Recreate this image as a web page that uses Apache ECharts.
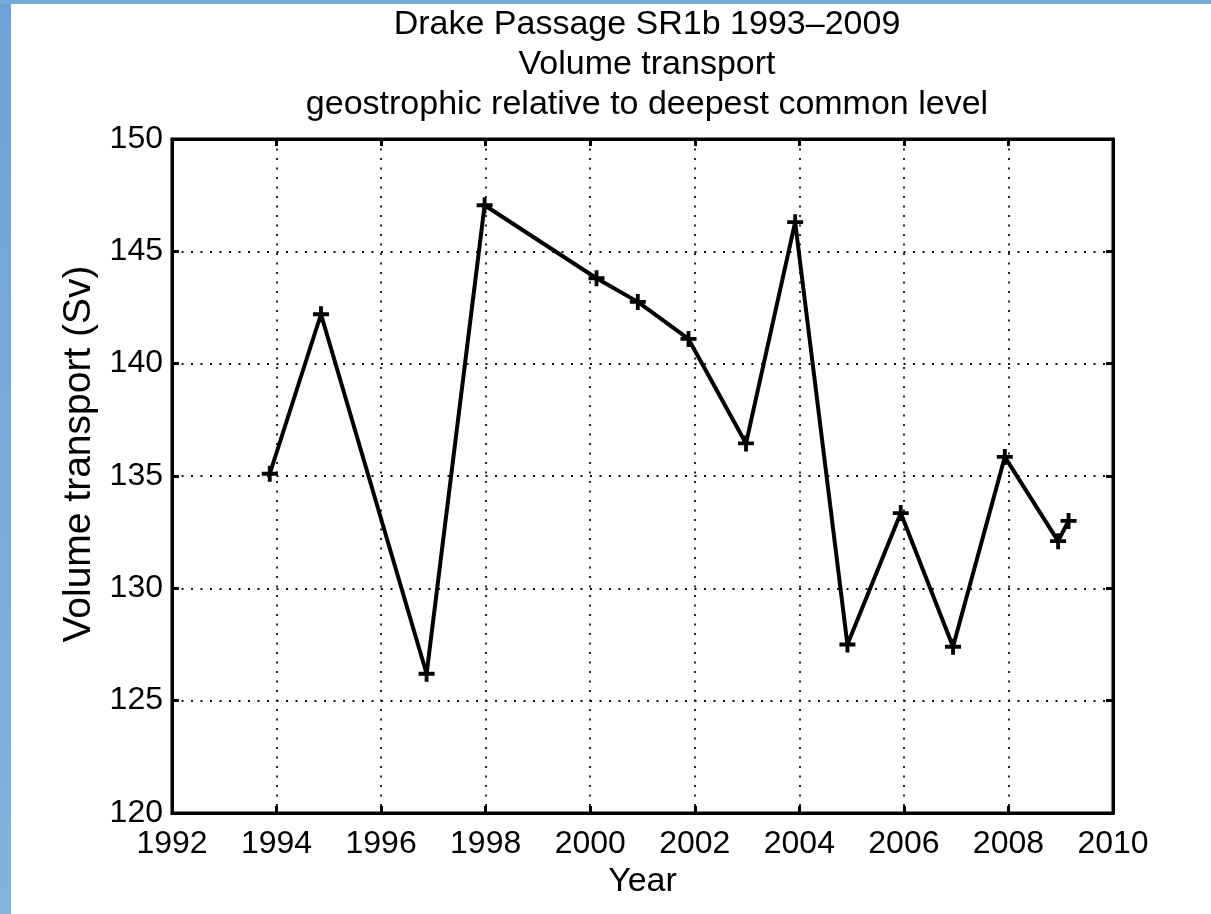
<!DOCTYPE html>
<html>
<head>
<meta charset="utf-8">
<script src="https://cdn.jsdelivr.net/npm/echarts@6/dist/echarts.min.js"></script>
<style>
html,body{margin:0;padding:0;background:#fff;}
#chart{width:1211px;height:914px;}
</style>
</head>
<body>
<div id="chart"></div>
<script>
// Data
const years = [1993.87, 1994.85, 1996.87, 1997.98, 2000.12, 2000.91, 2001.88, 2002.98, 2003.92, 2004.92, 2005.94, 2006.94, 2007.93, 2008.95, 2009.15];
const transport = [135.1, 142.2, 126.2, 147.05, 143.8, 142.75, 141.1, 136.45, 146.3, 127.5, 133.35, 127.4, 135.85, 132.1, 133.0];
const titleLines = ['Drake Passage SR1b 1993\u20132009', 'Volume transport', 'geostrophic relative to deepest common level'];
const xName = 'Year';
const yName = 'Volume transport (Sv)';

const points = years.map((y, i) => [y, transport[i]]);
const FONT = '"Liberation Sans", Arial, Helvetica, sans-serif';
const plus = 'path://M-1,-0.24L-0.24,-0.24L-0.24,-1L0.24,-1L0.24,-0.24L1,-0.24L1,0.24L0.24,0.24L0.24,1L-0.24,1L-0.24,0.24L-1,0.24Z';

const chart = echarts.init(document.getElementById('chart'), null, {renderer: 'canvas'});
const tickStyle = {show: true, inside: true, length: 7, lineStyle: {color: '#000', width: 3}};
const gridDots = {show: true, lineStyle: {color: '#111', width: 1.8, type: [2, 7.5]}};

chart.setOption({
  backgroundColor: '#fff',
  animation: false,
  graphic: [
    {type: 'rect', left: 0, top: 0, z: -10, shape: {width: 11, height: 914},
     style: {fill: new echarts.graphic.LinearGradient(0, 0, 0, 1, [{offset: 0, color: '#6fa2d6'}, {offset: 1, color: '#84b3db'}])}},
    {type: 'rect', left: 0, top: 0, z: -10, shape: {width: 1211, height: 4},
     style: {fill: '#78a9d8'}}
  ],
  title: {
    text: titleLines.join('\n'),
    left: 642, top: 0, textAlign: 'center',
    textStyle: {fontFamily: FONT, fontSize: 34, fontWeight: 'normal', color: '#000', lineHeight: 40}
  },
  grid: {left: 172, top: 139, right: 98, bottom: 101, show: true, borderColor: '#000', borderWidth: 3, backgroundColor: 'transparent'},
  xAxis: [
    {type: 'value', min: 1992, max: 2010, interval: 2, position: 'bottom',
     name: xName, nameLocation: 'middle', nameGap: 43,
     nameTextStyle: {fontFamily: FONT, fontSize: 34, color: '#000'},
     axisLine: {show: true, lineStyle: {color: '#000', width: 3}},
     axisTick: tickStyle,
     axisLabel: {fontFamily: FONT, fontSize: 32, color: '#000', margin: 15, formatter: v => String(v)},
     splitLine: gridDots},
    {type: 'value', min: 1992, max: 2010, interval: 2, position: 'top',
     axisLine: {show: true, lineStyle: {color: '#000', width: 3}},
     axisTick: tickStyle, axisLabel: {show: false}, splitLine: {show: false}}
  ],
  yAxis: [
    {type: 'value', min: 120, max: 150, interval: 5, position: 'left',
     name: yName, nameLocation: 'middle', nameGap: 61, nameRotate: 90,
     nameTextStyle: {fontFamily: FONT, fontSize: 39, color: '#000', padding: [0, 0, 0, 44]},
     axisLine: {show: true, lineStyle: {color: '#000', width: 3}},
     axisTick: tickStyle,
     axisLabel: {fontFamily: FONT, fontSize: 32, color: '#000', margin: 9, formatter: v => String(v)},
     splitLine: gridDots},
    {type: 'value', min: 120, max: 150, interval: 5, position: 'right',
     axisLine: {show: true, lineStyle: {color: '#000', width: 3}},
     axisTick: tickStyle, axisLabel: {show: false}, splitLine: {show: false}}
  ],
  series: [{
    type: 'line',
    data: points,
    xAxisIndex: 0, yAxisIndex: 0,
    symbol: plus, symbolSize: 16,
    showAllSymbol: true,
    lineStyle: {color: '#000', width: 4},
    itemStyle: {color: '#000'},
    z: 5
  }]
});
</script>
</body>
</html>
